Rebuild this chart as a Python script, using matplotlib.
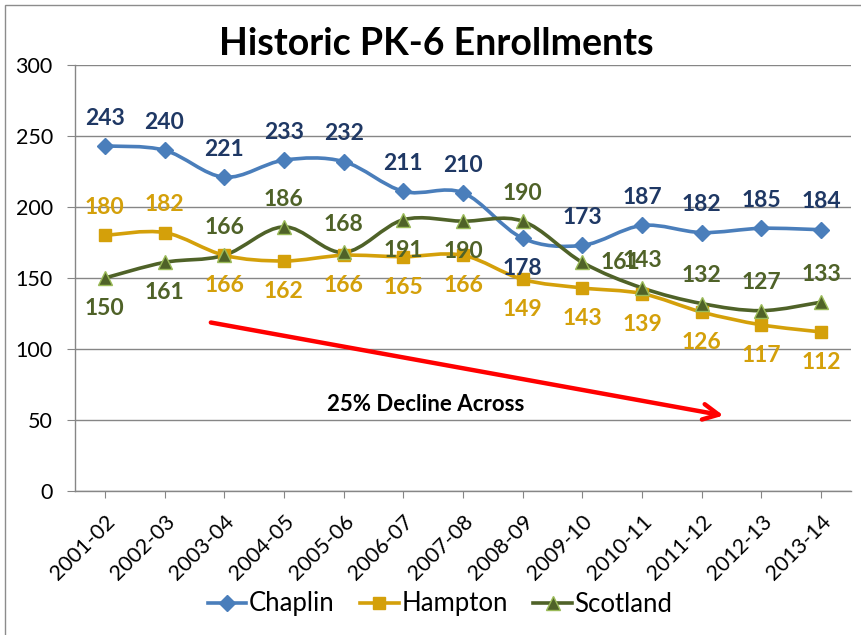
import numpy as np
import matplotlib
matplotlib.use("Agg")
import matplotlib.pyplot as plt
import matplotlib.transforms as mtransforms
from matplotlib.path import Path
from matplotlib.patches import PathPatch, Rectangle

plt.rcParams['font.family'] = ['Lato', 'DejaVu Sans']

years = ['2001-02', '2002-03', '2003-04', '2004-05', '2005-06', '2006-07', '2007-08',
         '2008-09', '2009-10', '2010-11', '2011-12', '2012-13', '2013-14']
chaplin = [243, 240, 221, 233, 232, 211, 210, 178, 173, 187, 182, 185, 184]
hampton = [180, 182, 166, 162, 166, 165, 166, 149, 143, 139, 126, 117, 112]
scotland = [150, 161, 166, 186, 168, 191, 190, 190, 161, 143, 132, 127, 133]

# where each data label sits (a = above, b = below, r = right)
chaplin_pos = ['a'] * 7 + ['b'] + ['a'] * 5
hampton_pos = ['a', 'a'] + ['b'] * 11
scotland_pos = ['b', 'b', 'a', 'a', 'a', 'b', 'b', 'a', 'r', 'a', 'a', 'a', 'a']

fig = plt.figure(figsize=(8.61, 6.35), dpi=100)
W, H = 861, 635
ax = fig.add_axes([75 / W, 1 - 491 / H, (851 - 75) / W, (491 - 65) / H])

# chart border
fig.patches.append(Rectangle((5 / W, -0.1), 1.2, 1 - 5 / H + 0.1, transform=fig.transFigure,
                             fill=False, edgecolor='#8c8c8c', lw=1.0))


def smooth_path(xs, ys):
    # excel-like smoothed line: catmull-rom segments as cubic bezier
    pts = np.column_stack([xs, ys]).astype(float)
    n = len(pts)
    verts = [pts[0]]
    codes = [Path.MOVETO]
    for i in range(n - 1):
        p0 = pts[i - 1] if i > 0 else pts[i]
        p1 = pts[i]
        p2 = pts[i + 1]
        p3 = pts[i + 2] if i + 2 < n else pts[i + 1]
        c1 = p1 + (p2 - p0) / 6.0
        c2 = p2 - (p3 - p1) / 6.0
        verts += [c1, c2, p2]
        codes += [Path.CURVE4] * 3
    return Path(verts, codes)


x = np.arange(len(years))
series = [
    ('Chaplin', chaplin, chaplin_pos, '#4A7EBB', 'D', 8, '#4A7EBB', '#4A7EBB', '#1F3864'),
    ('Hampton', hampton, hampton_pos, '#D4A00A', 's', 9, '#D4A00A', '#D4A00A', '#D4A00A'),
    ('Scotland', scotland, scotland_pos, '#4F6228', '^', 10, '#4F6228', '#9BBB59', '#4F6228'),
]

for name, vals, pos, col, mk, ms, mfc, mec, lcol in series:
    ax.add_patch(PathPatch(smooth_path(x, vals), fill=False, edgecolor=col, lw=2.6, zorder=3))
    ax.plot(x, vals, linestyle='none', marker=mk, markersize=ms, markerfacecolor=mfc,
            markeredgecolor=mec, markeredgewidth=1.0, zorder=4)
    ax.plot([], [], color=col, lw=2.6, marker=mk, markersize=ms, markerfacecolor=mfc,
            markeredgecolor=mec, label=name)
    for xi, v, p in zip(x, vals, pos):
        if p == 'a':
            off, ha = (0, 20), 'center'
        elif p == 'b':
            off, ha = (0, -22), 'center'
        else:
            off, ha = (13, 0), 'left'
        ax.annotate(str(v), (xi, v), xytext=off, textcoords='offset points',
                    ha=ha, va='center', fontsize=16.5, fontweight='bold', color=lcol, zorder=5)

ax.set_xlim(-0.5, len(years) - 0.5)
ax.set_ylim(0, 300)
ax.set_yticks([0, 50, 100, 150, 200, 250, 300])
ax.set_xticks(x)
ax.set_xticklabels(years, rotation=45, ha='right', va='top', rotation_mode='anchor', fontsize=15.5)
offset = mtransforms.ScaledTranslation(6 / 100, 0, fig.dpi_scale_trans)
for lab in ax.get_xticklabels():
    lab.set_transform(lab.get_transform() + offset)
ax.tick_params(axis='x', length=5, color='#868686', pad=10)
ax.tick_params(axis='y', length=6, color='#868686', pad=10, labelsize=15.5)
ax.grid(axis='y', color='#868686', lw=1.0)
ax.set_axisbelow(True)
for s in ['top', 'right']:
    ax.spines[s].set_visible(False)
for s in ['left', 'bottom']:
    ax.spines[s].set_color('#868686')
    ax.spines[s].set_linewidth(1.0)

# trend arrow and note
ax.annotate('', xy=(10.41, 52.8), xytext=(1.73, 119),
            arrowprops=dict(arrowstyle='->', color='#FF0000', lw=3.2, mutation_scale=28))
ax.text(5.38, 60.6, '25% Decline Across', ha='center', va='center', fontsize=16,
        fontweight='bold', color='black')

fig.text(436 / W, 1 - 55 / H, 'Historic PK-6 Enrollments', ha='center', va='baseline',
         fontsize=27, fontweight='bold', color='black')

fig.legend(loc='center', bbox_to_anchor=(440 / W, 1 - 604 / H), ncol=3, frameon=False,
           fontsize=18.5, handlelength=1.5, handletextpad=0.1, columnspacing=1.0)

fig.savefig('out.png', dpi=100)
